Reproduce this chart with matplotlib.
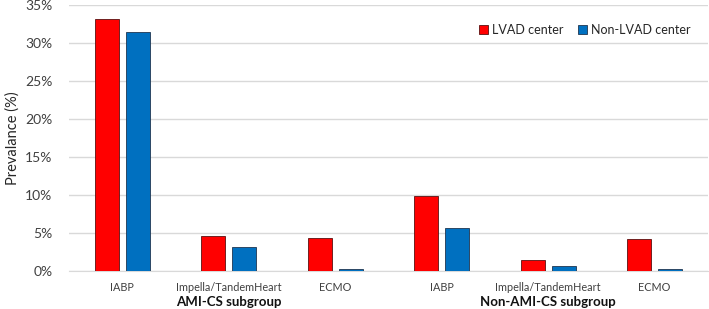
import numpy as np
import matplotlib
matplotlib.use('Agg')
import matplotlib.pyplot as plt
from matplotlib.ticker import PercentFormatter

plt.rcParams['font.family'] = ['Lato', 'DejaVu Sans']

# Data
categories = ['IABP', 'Impella/TandemHeart', 'ECMO', 'IABP', 'Impella/TandemHeart', 'ECMO']
groups = ['AMI-CS subgroup', 'Non-AMI-CS subgroup']
lvad = [33.2, 4.6, 4.4, 9.9, 1.5, 4.2]
non_lvad = [31.4, 3.1, 0.2, 5.6, 0.6, 0.2]

fig = plt.figure(figsize=(7.09, 3.09), dpi=100)
ax = fig.add_axes([0.0973, 0.123, 0.901, 0.861])

x = np.arange(len(categories))
w = 0.225
off = 0.145
ax.bar(x - off, lvad, w, color='#FF0000', edgecolor='#5a1010', linewidth=0.6, label='LVAD center', zorder=3)
ax.bar(x + off, non_lvad, w, color='#0070C0', edgecolor='#1f3550', linewidth=0.6, label='Non-LVAD center', zorder=3)

ax.set_xlim(-0.5, len(categories) - 0.5)
ax.set_ylim(0, 35)
ax.set_yticks(np.arange(0, 36, 5))
ax.yaxis.set_major_formatter(PercentFormatter(decimals=0))
ax.grid(axis='y', color='#d9d9d9', linewidth=1, zorder=0)
for s in ['top', 'right', 'left']:
    ax.spines[s].set_visible(False)
ax.spines['bottom'].set_color('#d9d9d9')
ax.tick_params(axis='y', length=0, labelsize=10, colors='#404040', pad=12)
ax.tick_params(axis='x', length=0, labelsize=7.8, colors='#404040', pad=8)
ax.set_xticks(x)
ax.set_xticklabels(categories)

ax.set_ylabel('Prevalance (%)', fontsize=10.5, color='#262626', labelpad=4)

for i, g in enumerate(groups):
    ax.text(1 + 3 * i, -0.115, g, transform=ax.get_xaxis_transform(),
            ha='center', va='center', fontsize=9.5, fontweight='bold', color='#111111')

ax.legend(loc='upper right', bbox_to_anchor=(0.99, 0.97), frameon=False, fontsize=9,
          ncol=2, handlelength=0.7, handleheight=0.7, handletextpad=0.3, columnspacing=1.2,
          labelcolor='#262626')

fig.savefig('out.png', dpi=100)
